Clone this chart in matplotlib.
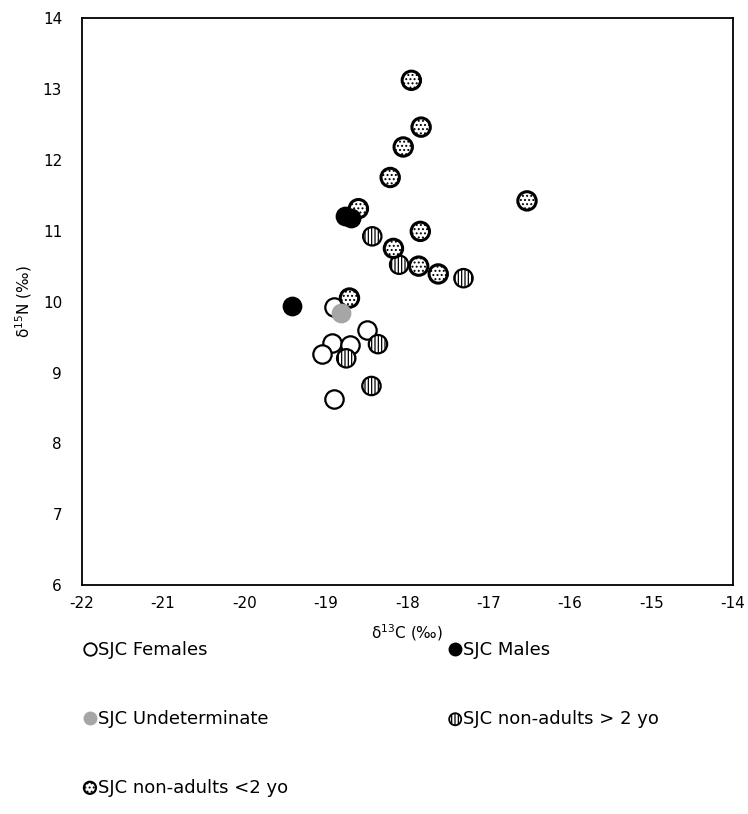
import matplotlib
matplotlib.use("Agg")
import matplotlib.pyplot as plt
from matplotlib.lines import Line2D

plt.rcParams['font.family'] = ['DejaVu Sans']
plt.rcParams['axes.unicode_minus'] = False
plt.rcParams['hatch.linewidth'] = 0.9

# delta13C / delta15N values per group
females_c = [-18.90, -18.49, -18.92, -18.70, -19.05, -18.90]
females_n = [9.92, 9.60, 9.41, 9.39, 9.26, 8.63]

males_c = [-18.76, -18.69, -19.41]
males_n = [11.20, 11.18, 9.94]

undet_c = [-18.82]
undet_n = [9.84]

over2_c = [-18.43, -18.10, -17.31, -18.36, -18.75, -18.44]
over2_n = [10.92, 10.52, 10.33, 9.40, 9.20, 8.81]

under2_c = [-17.95, -17.83, -18.05, -18.21, -18.60, -16.53,
            -17.84, -18.17, -17.86, -17.62, -18.71]
under2_n = [13.12, 12.46, 12.18, 11.75, 11.31, 11.42,
            10.99, 10.75, 10.50, 10.39, 10.05]

fig = plt.figure(figsize=(7.48, 8.14), dpi=100)
ax = fig.add_axes([0.109, 0.281, 0.871, 0.697])

ms = 175
ax.scatter(females_c, females_n, s=ms, facecolor='white', edgecolor='black',
           linewidth=1.6, zorder=3)
ax.scatter(undet_c, undet_n, s=ms, facecolor='#a6a6a6', edgecolor='#a6a6a6',
           linewidth=1.0, zorder=4)
ax.scatter(over2_c, over2_n, s=ms, facecolor='white', edgecolor='black',
           hatch='|||||', linewidth=1.6, zorder=3)
ax.scatter(under2_c, under2_n, s=ms, facecolor='white', edgecolor='black',
           hatch='....', linewidth=2.2, zorder=3)
ax.scatter(males_c, males_n, s=ms, facecolor='black', edgecolor='black',
           linewidth=1.0, zorder=3)

ax.set_xlim(-22, -14)
ax.set_ylim(6, 14)
ax.set_xticks(range(-22, -13))
ax.set_yticks(range(6, 15))
ax.tick_params(length=0, labelsize=11)
ax.tick_params(axis='x', pad=8)
ax.tick_params(axis='y', pad=14)
for sp in ax.spines.values():
    sp.set_linewidth(1.3)

ax.set_xlabel(r'δ$^{13}$C (‰)', fontsize=11, labelpad=8)
ax.set_ylabel(r'δ$^{15}$N (‰)', fontsize=11, labelpad=6)

# legend handles (ordered so the 2-column layout reads row by row)
def handle(fc, ec, lw=1.0):
    return Line2D([], [], linestyle='none', marker='o', markersize=9,
                  markerfacecolor=fc, markeredgecolor=ec, markeredgewidth=lw)

h_f = handle('white', 'black', lw=1.3)
h_m = handle('black', 'black')
h_u = handle('#a6a6a6', '#a6a6a6')
h_o = ax.scatter([], [], s=75, facecolor='white', edgecolor='black',
                 hatch='|||||', linewidth=1.3)
h_y = ax.scatter([], [], s=75, facecolor='white', edgecolor='black',
                 hatch='....', linewidth=1.6)

handles = [h_f, h_u, h_y, h_m, h_o]
labels = ['SJC Females', 'SJC Undeterminate', 'SJC non-adults <2 yo',
          'SJC Males', 'SJC non-adults > 2 yo']
fig.legend(handles, labels, ncol=2, loc='upper left',
           bbox_to_anchor=(0.113, 0.212), frameon=False, fontsize=13,
           handlelength=0.6, handletextpad=0.15, labelspacing=2.8,
           columnspacing=8.95, borderaxespad=0, borderpad=0)

fig.savefig('out.png', dpi=100)
